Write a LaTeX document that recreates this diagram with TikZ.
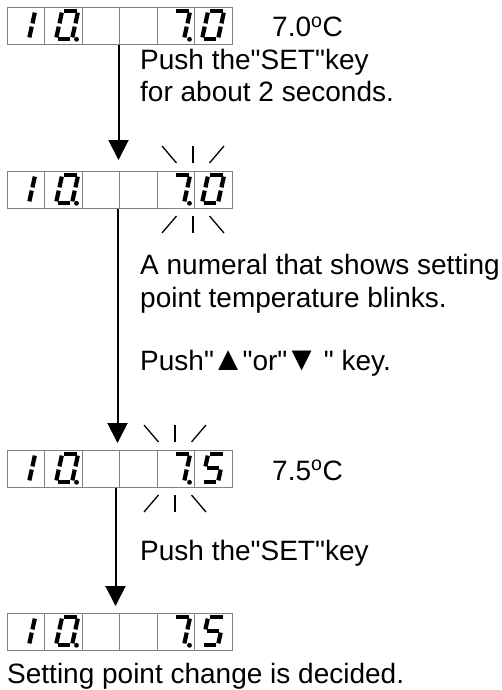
\documentclass[tikz,border=0pt]{standalone}
\usepackage{fontspec}
\setmainfont{Liberation Sans}
\usetikzlibrary{arrows.meta,calc}
\definecolor{panelgray}{RGB}{130,130,130}

\newcommand{\qq}{\textquotedbl}
\newcommand{\keytri}[1]{{\kern-2.5pt\fontsize{34}{33}\selectfont#1\kern-2.5pt}}

\newcommand{\lcddigit}[3]{%
  \begin{scope}[shift={(#1,#2)}, x=1pt, y=1pt, xslant=0.22]
    \foreach \n/\px/\py/\qx/\qy in {a/1.6/28/14.4/28, b/16/26.4/16/15.6, c/16/12.4/16/1.6,
        d/1.6/0/14.4/0, e/0/1.6/0/12.4, f/0/15.6/0/26.4, g/1.6/14/14.4/14}
      {\coordinate (seg\n1) at (\px,\py); \coordinate (seg\n2) at (\qx,\qy);}
    \foreach \s in {#3} {\draw[segment] (seg\s1) -- (seg\s2);}
  \end{scope}}

\newcommand{\lcdpanel}[3]{%
  \node[panel] (#1) at (7,#2) {};
  \foreach \i in {1,...,5}
    \draw[panelline] ($(#1.north west)+(37.5*\i,0)$) -- ($(#1.south west)+(37.5*\i,0)$);
  \lcddigit{13}{#2+32}{b,c}
  \lcddigit{56}{#2+32}{a,b,c,d,e,f}
  \lcddigit{168}{#2+32}{a,b,c}
  \lcddigit{202}{#2+32}{#3}
  \fill (76.5,#2+32.3) circle (2.4pt);
  \fill (189.5,#2+32.3) circle (2.4pt);}

\newcommand{\blink}[1]{%
  \foreach \sy in {-1,1} {
    \draw[ray] ($(#1)+(0,\sy*26.5)$) -- ($(#1)+(0,\sy*43.5)$);
    \foreach \sx in {-1,1}
      \draw[ray] ($(#1)+(\sx*16.5,\sy*26.5)$) -- ($(#1)+(\sx*31,\sy*43.5)$);}}

\begin{document}
\begin{tikzpicture}[x=1pt, y=-1pt,
    panel/.style={draw=panelgray, line width=1pt, anchor=north west, inner sep=0pt,
      minimum width=225pt, minimum height=37pt},
    panelline/.style={draw=panelgray, line width=1pt},
    segment/.style={line width=4.2pt},
    ray/.style={line width=1.3pt},
    arr/.style={-{Triangle[length=20pt,width=20pt]}, line width=2pt},
    txt/.style={anchor=base west, inner sep=0pt, font=\fontsize{28}{33}\selectfont}
  ]
  \useasboundingbox (0,0) rectangle (501,690);

  \lcdpanel{disp1}{7}{a,b,c,d,e,f}
  \node[txt] (temp1) at (272,37) {7.0\textsuperscript{o}C};
  \node[txt] (hold1) at (140,70) {Push the\qq SET\qq key};
  \node[txt] (hold2) at (140,102) {for about 2 seconds.};

  \lcdpanel{disp2}{171}{a,b,c,d,e,f}
  \coordinate (flash2) at (193,189.5);
  \blink{flash2}
  \node[txt] (blink1) at (140,274) {A numeral that shows setting};
  \node[txt] (blink2) at (140,307) {point temperature blinks.};
  \node[txt] (updown) at (140,370) {Push\qq\keytri{▲}\qq or\qq\keytri{▼} \qq\ key.};

  \lcdpanel{disp3}{450}{a,f,g,c,d}
  \coordinate (flash3) at (175,468.5);
  \blink{flash3}
  \node[txt] (temp3) at (272,480) {7.5\textsuperscript{o}C};
  \node[txt] (set1) at (140,560) {Push the\qq SET\qq key};

  \lcdpanel{disp4}{613}{a,f,g,c,d}
  \node[txt] (done) at (7,683) {Setting point change is decided.};

  \draw[arr, shorten >=11pt] ([xshift=-1.5pt]disp1.south) -- ([xshift=-1.5pt]disp2.north);
  \draw[arr, shorten >=7pt] ([xshift=-2.5pt]disp2.south) -- ([xshift=-2.5pt]disp3.north);
  \draw[arr, shorten >=7pt] ([xshift=-4.5pt]disp3.south) -- ([xshift=-4.5pt]disp4.north);
\end{tikzpicture}
\end{document}
